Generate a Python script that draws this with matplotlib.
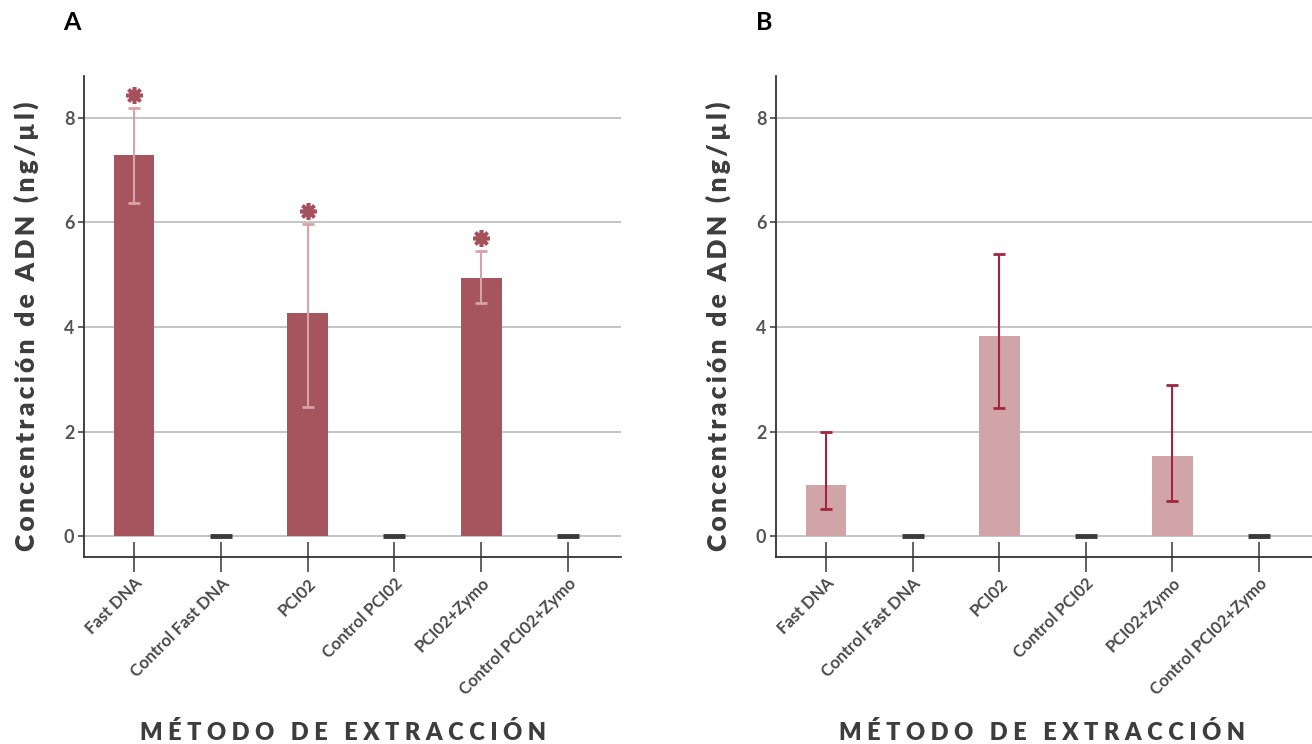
import matplotlib
matplotlib.use("Agg")
import matplotlib.pyplot as plt
import matplotlib.transforms as mtransforms
import numpy as np

plt.rcParams['font.family'] = ['Lato', 'DejaVu Sans']

categories = ["Fast DNA", "Control Fast DNA", "PCI02", "Control PCI02",
              "PCI02+Zymo", "Control PCI02+Zymo"]
sample_idx = [0, 2, 4]
control_idx = [1, 3, 5]

# Panel A
a_means = [7.29, 4.27, 4.94]
a_lower = [6.37, 2.47, 4.46]
a_upper = [8.19, 5.97, 5.45]
a_control = [0.0, 0.0, 0.0]
a_signif = [True, True, True]

# Panel B
b_means = [0.98, 3.83, 1.53]
b_lower = [0.52, 2.45, 0.67]
b_upper = [2.00, 5.40, 2.89]
b_control = [0.0, 0.0, 0.0]
b_signif = [False, False, False]

yticks = [0, 2, 4, 6, 8]
xlabel = "M É T O D O   D E   E X T R A C C I Ó N"
ylabel_text = "Concentración de ADN (ng/µl)"
THIN = "\u2009"
ylabel = THIN.join(ylabel_text)

fig = plt.figure(figsize=(13.12, 7.44), dpi=100)
axA = fig.add_axes([84/1312, 1-557/744, 537/1312, (557-76)/744])
axB = fig.add_axes([776/1312, 1-557/744, 536/1312, (557-76)/744])

def draw(ax, means, lower, upper, control, signif, bar_color, err_color, letter, xlab_x):
    x = np.arange(len(categories))
    xs = x[sample_idx]
    m = np.array(means)
    yerr = np.vstack([m - np.array(lower), np.array(upper) - m])
    ax.set_axisbelow(True)
    ax.grid(axis='y', color='#b4b4b4', linewidth=1.1)
    ax.bar(xs, m, width=0.47, color=bar_color, zorder=2)
    ax.errorbar(xs, m, yerr=yerr, fmt='none', ecolor=err_color,
                elinewidth=1.5, capsize=4, capthick=2, zorder=3)
    ax.plot(x[control_idx], control, linestyle='none', marker='_',
            markersize=16, markeredgewidth=3.5, color='#3a3a3a', zorder=3)
    off = mtransforms.offset_copy(ax.transData, fig=ax.figure, x=0, y=13, units='dots')
    for xi, up, s in zip(xs, upper, signif):
        if s:
            ax.plot([xi], [up], linestyle='none', marker=(8, 2, 0), markersize=12,
                    markeredgewidth=2.6, color='#a6505c', transform=off, zorder=4)
    ax.set_xlim(-0.576, 5.61)
    ax.set_ylim(-0.4, 8.8)
    ax.set_yticks(yticks)
    ax.set_xticks(x)
    ax.set_xticklabels(categories, rotation=45, ha='right', rotation_mode='anchor',
                       fontsize=12, fontweight='bold', color='#4a4a4a')
    ax.tick_params(axis='x', direction='inout', length=22, width=1.3, color='#555555', pad=2)
    ax.tick_params(axis='y', direction='out', length=4, width=1.3, color='#555555',
                   labelsize=13, labelcolor='#555555', pad=3)
    for lab in ax.get_yticklabels():
        lab.set_fontweight('bold')
    for sp in ['top', 'right']:
        ax.spines[sp].set_visible(False)
    for sp in ['left', 'bottom']:
        ax.spines[sp].set_color('#333333')
        ax.spines[sp].set_linewidth(1.3)
    ax.set_ylabel(ylabel, fontsize=19, fontweight='heavy', color='#3d3d3d', labelpad=18)
    ax.yaxis.label.set_y(0.479)
    ax.set_xlabel(xlabel, fontsize=17, fontweight='heavy', color='#3d3d3d', labelpad=17)
    ax.xaxis.label.set_x(xlab_x)
    ax.text(-0.022, 1.112, letter, transform=ax.transAxes, fontsize=18,
            fontweight='bold', color='black', ha='center', va='center')

draw(axA, a_means, a_lower, a_upper, a_control, a_signif, '#a6555f', '#d6a3a8', 'A', 0.483)
draw(axB, b_means, b_lower, b_upper, b_control, b_signif, '#d1a4a8', '#a3243f', 'B', 0.496)

fig.savefig("out.png", dpi=100)
